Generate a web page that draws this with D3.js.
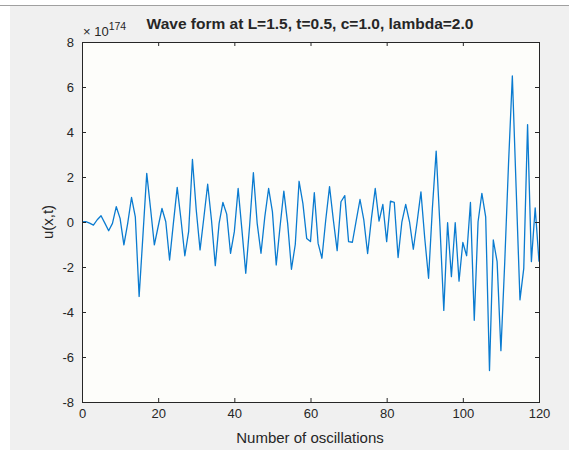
<!DOCTYPE html>
<meta charset="utf-8">
<script src="https://d3js.org/d3.v7.min.js"></script>
<style>
  body { margin: 0; background: #fff; }
  text { font-family: "Liberation Sans", Arial, sans-serif; fill: #262626; }
</style>
<body>
<div id="chart"></div>
<script>
// oscillation index 0..120 and the wave value (in units of 1e174)
var xTicks = [0, 20, 40, 60, 80, 100, 120]
var yTicks = [-8, -6, -4, -2, 0, 2, 4, 6, 8]
var uValues = [
  0.0, 0.02, -0.05, -0.14, 0.1, 0.28, -0.05, -0.39, -0.06, 0.68,
  0.16, -1.02, -0.06, 1.09, 0.23, -3.31, -0.6, 2.16, 0.6, -1.02,
  -0.2, 0.6, 0.01, -1.69, -0.05, 1.54, 0.1, -1.5, -0.43, 2.78,
  0.53, -1.24, 0.2, 1.68, 0.09, -1.94, -0.06, 0.87, 0.35, -1.39,
  -0.43, 1.49, -0.36, -2.28, -0.2, 2.19, -0.06, -1.39, 0.23, 1.49,
  0.46, -1.91, -0.21, 1.37, -0.06, -2.1, -1.0, 1.81, 0.83, -0.73,
  -0.87, 1.3, -0.95, -1.61, 0.09, 1.57, 0.09, -1.27, 0.9, 1.17,
  -0.87, -0.9, 0.06, 1.0, 0.09, -1.4, 0.16, 1.49, 0.04, 0.78,
  -0.87, 0.93, 0.87, -1.58, 0.01, 0.78, 0.01, -1.21, 0.01, 1.34,
  -0.72, -2.5, 0.6, 3.15, -0.2, -3.93, -0.03, -2.43, -0.03, -2.63,
  -0.91, -1.5, 0.87, -4.37, 0.01, 1.27, 0.23, -6.6, -0.8, -1.76,
  -5.72, -1.8, 2.6, 6.49, 1.5, -3.46, -2.06, 4.33, -1.76, 0.63,
  -1.76
]

var width = 569, height = 455
var plotL = 82, plotR = 539, plotT = 42, plotB = 402

var svg = d3.select("#chart").append("svg")
  .attr("width", width)
  .attr("height", height)

// figure background
svg.append("rect").attr("x", 10).attr("y", 5).attr("width", width - 10).attr("height", 445)
  .attr("fill", "#f0f0f0")
svg.append("line").attr("x1", 0).attr("x2", width).attr("y1", 5.5).attr("y2", 5.5)
  .attr("stroke", "#a0a0a0")

var x = d3.scaleLinear().domain([0, 120]).range([plotL, plotR])
var y = d3.scaleLinear().domain([-8, 8]).range([plotB, plotT])

// axes background
svg.append("rect").attr("x", plotL).attr("y", plotT)
  .attr("width", plotR - plotL).attr("height", plotB - plotT)
  .attr("fill", "#fdfdfa")

// the wave
var line = d3.line()
  .x(function(d, i) { return x(i) })
  .y(function(d) { return y(d) })

svg.append("path")
  .datum(uValues)
  .attr("d", line)
  .attr("fill", "none")
  .attr("stroke", "#0a7bd0")
  .attr("stroke-width", 1.3)
  .attr("stroke-linejoin", "round")

// axes with inward ticks, box style
function styleAxis(g) {
  g.select(".domain").remove()
  g.selectAll("line").attr("stroke", "#262626")
  g.selectAll("text").attr("font-size", 13).attr("fill", "#404040")
    .attr("font-family", "Liberation Sans, Arial, sans-serif")
}
var plain = function(d) { return String(d) }

svg.append("g").attr("transform", "translate(0," + plotB + ")")
  .call(d3.axisBottom(x).tickValues(xTicks).tickSize(-4).tickPadding(7).tickFormat(plain))
  .call(styleAxis)
svg.append("g").attr("transform", "translate(0," + plotT + ")")
  .call(d3.axisTop(x).tickValues(xTicks).tickSize(-4).tickFormat(""))
  .call(styleAxis)
svg.append("g").attr("transform", "translate(" + plotL + ",0)")
  .call(d3.axisLeft(y).tickValues(yTicks).tickSize(-4).tickPadding(8).tickFormat(plain))
  .call(styleAxis)
svg.append("g").attr("transform", "translate(" + plotR + ",0)")
  .call(d3.axisRight(y).tickValues(yTicks).tickSize(-4).tickFormat(""))
  .call(styleAxis)

svg.append("rect").attr("x", plotL + 0.5).attr("y", plotT + 0.5)
  .attr("width", plotR - plotL).attr("height", plotB - plotT)
  .attr("fill", "none").attr("stroke", "#262626").attr("stroke-width", 1)

// exponent label
var ex = svg.append("text").attr("x", plotL + 1).attr("y", 36).attr("font-size", 13)
  .attr("fill", "#555")
ex.append("tspan").text("\u00d7 10")
ex.append("tspan").attr("dy", -6).attr("font-size", 10.5).text("174")

// title
svg.append("text").attr("x", 310).attr("y", 29)
  .attr("text-anchor", "middle").attr("font-size", 15.5).attr("font-weight", "bold")
  .text("Wave form at L=1.5, t=0.5, c=1.0, lambda=2.0")

// axis labels
svg.append("text").attr("x", 310).attr("y", 443)
  .attr("text-anchor", "middle").attr("font-size", 15).attr("fill", "#404040")
  .text("Number of oscillations")

svg.append("text")
  .attr("transform", "translate(53," + ((plotT + plotB) / 2) + ") rotate(-90)")
  .attr("text-anchor", "middle").attr("font-size", 15).attr("fill", "#404040")
  .text("u(x,t)")
</script>
</body>
